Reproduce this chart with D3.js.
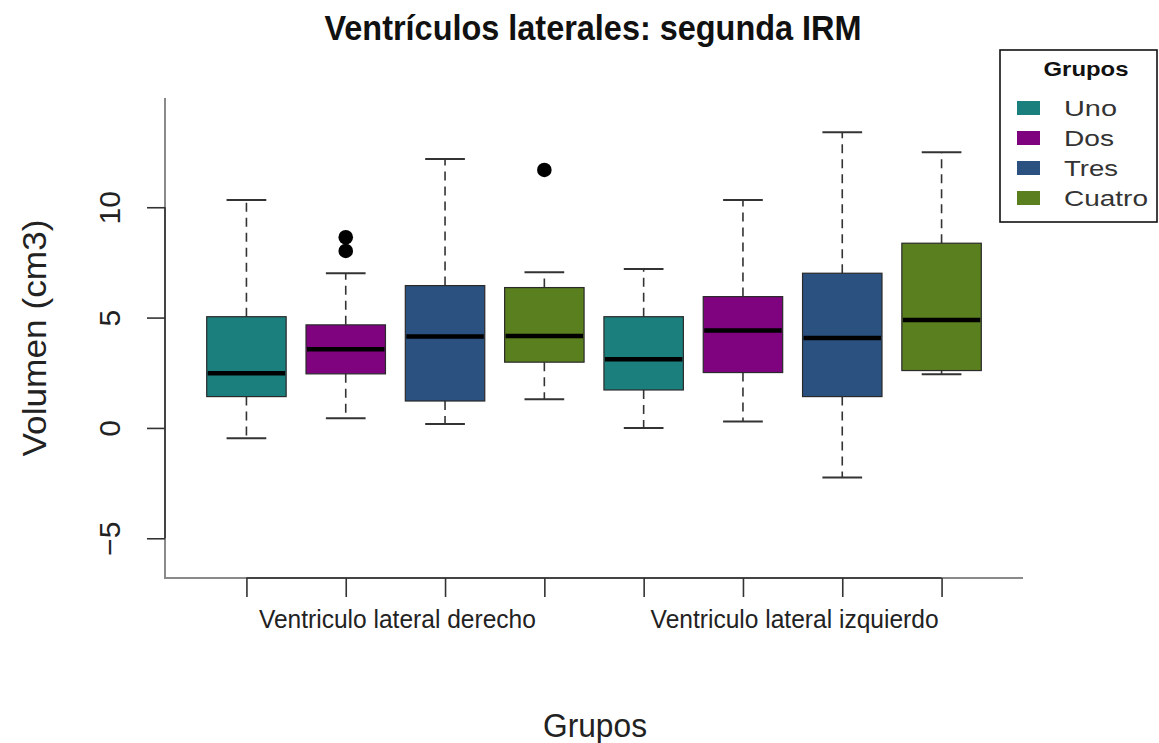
<!DOCTYPE html>
<html>
<head>
<meta charset="utf-8">
<script src="https://cdn.jsdelivr.net/npm/d3@7"></script>
<style>
  html, body { margin: 0; padding: 0; background: #fff; }
  svg { display: block; font-family: "Liberation Sans", Arial, sans-serif; }
</style>
</head>
<body>
<svg id="chart" width="1159" height="743"></svg>
<script>
// Boxplot of lateral ventricle volumes (second MRI), grouped by side and group
const categories = ["Ventriculo lateral derecho", "Ventriculo lateral izquierdo"];
const groups = ["Uno", "Dos", "Tres", "Cuatro"];
const groupColors = ["#1b7f7d", "#7f037f", "#2b5180", "#5a7f1e"];

// Five-number summaries, one entry per box (side x group)
const whiskerLow  = [-0.47, 0.44, 0.18, 1.30, 0.00, 0.29, -2.25, 2.43];
const q1          = [ 1.42, 2.45, 1.22, 2.98, 1.72, 2.51,  1.42, 2.60];
const median      = [ 2.48, 3.57, 4.14, 4.17, 3.11, 4.41,  4.08, 4.89];
const q3          = [ 5.04, 4.67, 6.45, 6.36, 5.04, 5.95,  7.01, 8.37];
const whiskerHigh = [10.33, 7.01, 12.19, 7.05, 7.20, 10.33, 13.40, 12.49];
const outliers    = [[], [8.64, 8.02], [], [11.69], [], [], [], []];

const yTicks = [-5, 0, 5, 10];

const boxes = whiskerLow.map((d, i) => ({
  pos: i + 1,
  group: i % groups.length,
  lo: d, q1: q1[i], med: median[i], q3: q3[i], hi: whiskerHigh[i],
  out: outliers[i]
}));

const svg = d3.select("#chart");

const x = d3.scaleLinear().domain([0.18, 8.82]).range([165, 1023]);
const y = d3.scaleLinear().domain([-6.8, 14.95]).range([578, 98]);

const boxW = x(1.8) - x(1);      // full box width = 0.8 units
const capW = x(1.4) - x(1);      // whisker cap width = 0.4 units

// L-shaped frame
svg.append("path")
  .attr("d", `M${x.range()[0]},${y.range()[1]}V${y.range()[0]}H${x.range()[1]}`)
  .attr("fill", "none").attr("stroke", "#8a8a8a").attr("stroke-width", 2);

// Bottom axis: ticks at each box, labels centred under each side
const xAxis = svg.append("g")
  .attr("transform", `translate(0,${y.range()[0]})`)
  .call(d3.axisBottom(x).tickValues(d3.range(1, 9)).tickFormat("").tickSize(19).tickSizeOuter(0));
xAxis.select(".domain").attr("d", `M${x(1)},0H${x(8)}`).attr("stroke", "#444").attr("stroke-width", 2);
xAxis.selectAll(".tick line").attr("stroke", "#333").attr("stroke-width", 1.6);

svg.append("g").selectAll("text")
  .data(categories)
  .join("text")
  .attr("x", (d, i) => x(2.5 + i * 4) + 2)
  .attr("y", 628)
  .attr("text-anchor", "middle")
  .attr("font-size", 25)
  .attr("fill", "#222")
  .attr("textLength", (d, i) => i === 0 ? 277 : 288)
  .attr("lengthAdjust", "spacingAndGlyphs")
  .text(d => d);

// Left axis with rotated labels
const yAxis = svg.append("g")
  .attr("transform", `translate(${x.range()[0]},0)`)
  .call(d3.axisLeft(y).tickValues(yTicks).tickSize(18).tickSizeOuter(0));
yAxis.select(".domain").attr("d", `M0,${y(-5)}V${y(10)}`).attr("stroke", "#444").attr("stroke-width", 2);
yAxis.selectAll(".tick line").attr("stroke", "#333").attr("stroke-width", 1.6);
yAxis.selectAll(".tick text")
  .attr("x", 0).attr("y", 0).attr("dy", 0)
  .attr("transform", "translate(-45,0) rotate(-90)")
  .attr("text-anchor", "middle")
  .attr("font-size", 30)
  .attr("font-family", "Liberation Sans, Arial, sans-serif")
  .attr("fill", "#222");

// Boxes
const g = svg.append("g");
boxes.forEach(b => {
  const cx = x(b.pos);
  const bg = g.append("g");
  // dashed whiskers
  bg.append("line").attr("x1", cx).attr("x2", cx).attr("y1", y(b.q3)).attr("y2", y(b.hi))
    .attr("stroke", "#333").attr("stroke-width", 1.6).attr("stroke-dasharray", "9,6");
  bg.append("line").attr("x1", cx).attr("x2", cx).attr("y1", y(b.q1)).attr("y2", y(b.lo))
    .attr("stroke", "#333").attr("stroke-width", 1.6).attr("stroke-dasharray", "9,6");
  // caps
  [b.hi, b.lo].forEach(v => {
    bg.append("line").attr("x1", cx - capW / 2).attr("x2", cx + capW / 2)
      .attr("y1", y(v)).attr("y2", y(v))
      .attr("stroke", "#333").attr("stroke-width", 2);
  });
  // box
  bg.append("rect")
    .attr("x", cx - boxW / 2).attr("width", boxW)
    .attr("y", y(b.q3)).attr("height", y(b.q1) - y(b.q3))
    .attr("fill", groupColors[b.group])
    .attr("stroke", "#2a2a2a").attr("stroke-width", 1.2);
  // median
  bg.append("line").attr("x1", cx - boxW / 2 + 1).attr("x2", cx + boxW / 2 - 1)
    .attr("y1", y(b.med)).attr("y2", y(b.med))
    .attr("stroke", "#000").attr("stroke-width", 4.5);
  // outliers
  bg.selectAll("circle").data(b.out).join("circle")
    .attr("cx", cx).attr("cy", d => y(d)).attr("r", 7.3).attr("fill", "#000");
});

// Title and axis titles
svg.append("text")
  .attr("x", 593).attr("y", 40)
  .attr("text-anchor", "middle")
  .attr("font-size", 35).attr("font-weight", "bold")
  .attr("textLength", 537).attr("lengthAdjust", "spacingAndGlyphs")
  .attr("fill", "#111")
  .text("Ventrículos laterales: segunda IRM");

svg.append("text")
  .attr("transform", "translate(46,338) rotate(-90)")
  .attr("text-anchor", "middle")
  .attr("font-size", 34)
  .attr("textLength", 237).attr("lengthAdjust", "spacingAndGlyphs")
  .attr("fill", "#222")
  .text("Volumen (cm3)");

svg.append("text")
  .attr("x", 595).attr("y", 737)
  .attr("text-anchor", "middle")
  .attr("font-size", 34)
  .attr("textLength", 104).attr("lengthAdjust", "spacingAndGlyphs")
  .attr("fill", "#222")
  .text("Grupos");

// Legend
const legend = svg.append("g");
legend.append("rect")
  .attr("x", 1000).attr("y", 50).attr("width", 157).attr("height", 172)
  .attr("fill", "#fff").attr("stroke", "#111").attr("stroke-width", 1.6);
legend.append("text")
  .attr("x", 1086).attr("y", 76)
  .attr("text-anchor", "middle")
  .attr("font-size", 20).attr("font-weight", "bold")
  .attr("textLength", 85).attr("lengthAdjust", "spacingAndGlyphs")
  .attr("fill", "#111")
  .text("Grupos");
const labelWidths = [53, 50, 54, 84];
const rows = legend.selectAll("g.row").data(groups).join("g")
  .attr("class", "row")
  .attr("transform", (d, i) => `translate(0,${108 + i * 30})`);
rows.append("rect")
  .attr("x", 1017).attr("y", -7).attr("width", 23).attr("height", 14)
  .attr("fill", (d, i) => groupColors[i]);
rows.append("text")
  .attr("x", 1064).attr("y", 8)
  .attr("font-size", 22)
  .attr("textLength", (d, i) => labelWidths[i]).attr("lengthAdjust", "spacingAndGlyphs")
  .attr("fill", "#333")
  .text(d => d);
</script>
</body>
</html>
